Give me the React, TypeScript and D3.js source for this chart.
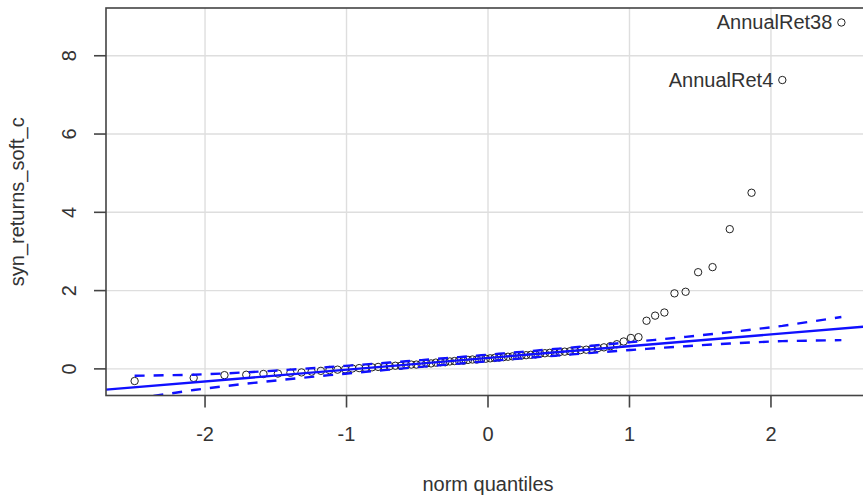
import React from "react";
import * as d3 from "d3";

// Sorted sample values (ascending)
const returnsSorted: number[] = [
  -0.31, -0.23, -0.16, -0.15, -0.13, -0.12, -0.10, -0.09, -0.07, -0.05,
  -0.03, -0.02, -0.01, 0.01, 0.02, 0.02, 0.04, 0.05, 0.05, 0.07,
  0.08, 0.08, 0.10, 0.11, 0.11, 0.13, 0.14, 0.14, 0.16, 0.17,
  0.17, 0.19, 0.20, 0.21, 0.21, 0.23, 0.24, 0.24, 0.26, 0.26,
  0.27, 0.28, 0.29, 0.30, 0.31, 0.32, 0.33, 0.34, 0.35, 0.36,
  0.37, 0.39, 0.40, 0.41, 0.41, 0.43, 0.44, 0.45, 0.46, 0.48,
  0.49, 0.51, 0.53, 0.55, 0.58, 0.63, 0.70, 0.79, 0.81, 1.23,
  1.36, 1.44, 1.93, 1.97, 2.47, 2.60, 3.57, 4.50, 7.38, 8.85,
];

const labelRanks: number[] = [80, 79];
const labelTexts: string[] = ["AnnualRet38", "AnnualRet4"];

const xTicks: number[] = [-2, -1, 0, 1, 2];
const yTicks: number[] = [0, 2, 4, 6, 8];
const xTitle = "norm quantiles";
const yTitle = "syn_returns_soft_c";
const envelopeLevel = 0.95;

// inverse normal CDF (Acklam)
function qnorm(p: number): number {
  const a = [-3.969683028665376e1, 2.209460984245205e2, -2.759285104469687e2, 1.38357751867269e2, -3.066479806614716e1, 2.506628277459239];
  const b = [-5.447609879822406e1, 1.615858368580409e2, -1.556989798598866e2, 6.680131188771972e1, -1.328068155288572e1];
  const c = [-7.784894002430293e-3, -3.223964580411365e-1, -2.400758277161838, -2.549732539343734, 4.374664141464968, 2.938163982698783];
  const d = [7.784695709041462e-3, 3.224671290700398e-1, 2.445134137142996, 3.754408661907416];
  const pl = 0.02425;
  let q: number, r: number;
  if (p < pl) {
    q = Math.sqrt(-2 * Math.log(p));
    return (((((c[0] * q + c[1]) * q + c[2]) * q + c[3]) * q + c[4]) * q + c[5]) / ((((d[0] * q + d[1]) * q + d[2]) * q + d[3]) * q + 1);
  } else if (p <= 1 - pl) {
    q = p - 0.5;
    r = q * q;
    return ((((((a[0] * r + a[1]) * r + a[2]) * r + a[3]) * r + a[4]) * r + a[5]) * q) / (((((b[0] * r + b[1]) * r + b[2]) * r + b[3]) * r + b[4]) * r + 1);
  } else {
    q = Math.sqrt(-2 * Math.log(1 - p));
    return -(((((c[0] * q + c[1]) * q + c[2]) * q + c[3]) * q + c[4]) * q + c[5]) / ((((d[0] * q + d[1]) * q + d[2]) * q + d[3]) * q + 1);
  }
}
const dnorm = (x: number) => Math.exp(-x * x / 2) / Math.sqrt(2 * Math.PI);

export default function App() {
  const W = 863, H = 498;
  const left = 106, right = 870, top = 8, bottom = 395.5;
  const n = returnsSorted.length;
  const P = returnsSorted.map((_, i) => (i + 0.5) / n);
  const z = P.map(qnorm);

  const q1 = d3.quantile(returnsSorted, 0.25)!;
  const q3 = d3.quantile(returnsSorted, 0.75)!;
  const slope = (q3 - q1) / (qnorm(0.75) - qnorm(0.25));
  const intercept = q1 - slope * qnorm(0.25);
  const zz = qnorm(1 - (1 - envelopeLevel) / 2);

  const x = d3.scaleLinear().domain([-2.7, 2.7]).range([left, right]);
  const y = d3.scaleLinear().domain([-0.68, 9.22]).range([bottom, top]);

  const fit = z.map((v) => intercept + slope * v);
  const se = z.map((v, i) => (slope / dnorm(v)) * Math.sqrt((P[i] * (1 - P[i])) / n));
  const upper = fit.map((f, i) => f + zz * se[i]);
  const lower = fit.map((f, i) => f - zz * se[i]);

  const lineGen = d3.line<[number, number]>().x((d) => x(d[0])).y((d) => y(d[1]));
  const upperPath = lineGen(z.map((v, i) => [v, upper[i]]))!;
  const lowerPath = lineGen(z.map((v, i) => [v, lower[i]]))!;
  const xd = x.domain();
  const fitPath = lineGen([[xd[0], intercept + slope * xd[0]], [xd[1], intercept + slope * xd[1]]])!;

  const font = "'Liberation Sans', Arial, sans-serif";
  const fs = 20;
  const textColor = "#333";
  const blue = "#1010ff";

  return (
    <svg width={W} height={H} style={{ position: "absolute", left: 0, top: 0, background: "#fff" }}>
      <defs>
        <clipPath id="plotclip">
          <rect x={left} y={top} width={right - left} height={bottom - top} />
        </clipPath>
      </defs>
      <rect x={0} y={0} width={W} height={H} fill="#fff" />
      {/* grid */}
      {xTicks.map((t) => (
        <line key={"gx" + t} x1={x(t)} x2={x(t)} y1={top} y2={bottom} stroke="#dedede" strokeWidth={1.4} />
      ))}
      {yTicks.map((t) => (
        <line key={"gy" + t} x1={left} x2={right} y1={y(t)} y2={y(t)} stroke="#dedede" strokeWidth={1.4} />
      ))}
      {/* points */}
      <g clipPath="url(#plotclip)">
        {returnsSorted.map((v, i) => (
          <circle key={"p" + i} cx={x(z[i])} cy={y(v)} r={3.7} fill="none" stroke="#222" strokeWidth={1} />
        ))}
        <path d={fitPath} fill="none" stroke={blue} strokeWidth={2.4} />
        <path d={upperPath} fill="none" stroke={blue} strokeWidth={2.4} strokeDasharray="10,9" />
        <path d={lowerPath} fill="none" stroke={blue} strokeWidth={2.4} strokeDasharray="10,9" />
      </g>
      {/* labels of extreme points */}
      {labelRanks.map((r, k) => (
        <text key={"lab" + k} x={x(z[r - 1]) - 9} y={y(returnsSorted[r - 1]) + 7} textAnchor="end"
          fontFamily={font} fontSize={fs} fill={textColor}>{labelTexts[k]}</text>
      ))}
      {/* box */}
      <rect x={left} y={top} width={right - left} height={bottom - top} fill="none" stroke="#444" strokeWidth={1.6} />
      {/* x axis */}
      {xTicks.map((t) => (
        <g key={"xt" + t}>
          <line x1={x(t)} x2={x(t)} y1={bottom} y2={bottom + 12} stroke="#444" strokeWidth={1.6} />
          <text x={x(t)} y={441} textAnchor="middle" fontFamily={font} fontSize={fs} fill={textColor}>{t}</text>
        </g>
      ))}
      {/* y axis */}
      {yTicks.map((t) => (
        <g key={"yt" + t}>
          <line x1={left - 12} x2={left} y1={y(t)} y2={y(t)} stroke="#444" strokeWidth={1.6} />
          <text transform={`translate(76,${y(t)}) rotate(-90)`} textAnchor="middle" fontFamily={font} fontSize={fs} fill={textColor}>{t}</text>
        </g>
      ))}
      <text x={(left + right) / 2} y={491} textAnchor="middle" fontFamily={font} fontSize={fs} fill={textColor}>{xTitle}</text>
      <text transform={`translate(24,${(top + bottom) / 2}) rotate(-90)`} textAnchor="middle" fontFamily={font} fontSize={fs} fill={textColor}>{yTitle}</text>
    </svg>
  );
}
